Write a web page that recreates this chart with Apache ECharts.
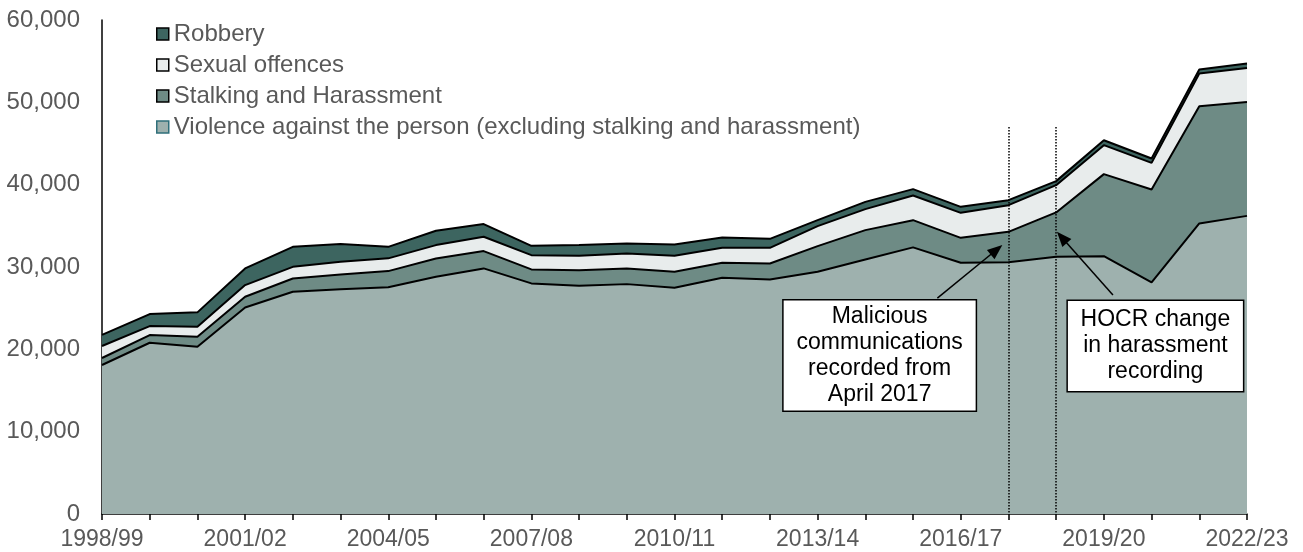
<!DOCTYPE html>
<html><head><meta charset="utf-8">
<script src="https://cdn.jsdelivr.net/npm/echarts@6/dist/echarts.min.js"></script>
<style>html,body{margin:0;padding:0;background:#fff}#c{width:1303px;height:552px}</style>
</head><body><div id="c"></div>
<script>
const years = ['1998/99','1999/00','2000/01','2001/02','2002/03','2003/04','2004/05','2005/06','2006/07','2007/08','2008/09','2009/10','2010/11','2011/12','2012/13','2013/14','2014/15','2015/16','2016/17','2017/18','2018/19','2019/20','2020/21','2021/22','2022/23'];
const violence = [18100,20800,20310,25090,26990,27300,27550,28810,29830,28010,27720,27920,27470,28690,28490,29420,30920,32380,30510,30590,31240,31320,28130,35290,36210];
const stalking = [850,930,1215,1290,1620,1800,1950,2230,2100,1700,1900,1910,1950,1820,1940,3120,3560,3310,3030,3680,5390,9960,11290,14240,13840];
const sexual = [1450,1090,1215,1420,1410,1530,1550,1620,1740,1730,1740,1820,1940,1820,1900,2420,2550,3000,3040,3240,3310,3520,3230,3970,4130];
const robbery = [1350,1460,1750,2030,2430,2150,1400,1740,1540,1130,1300,1210,1380,1260,1090,730,880,770,730,610,490,600,530,490,530];
const seriesNames = ['Violence against the person (excluding stalking and harassment)','Stalking and Harassment','Sexual offences','Robbery'];
const changeYears = ['2017/18','2018/19'];
const changeLineTop = 47000;
const noteTexts = ['Malicious\ncommunications\nrecorded from\nApril 2017','HOCR change\nin harassment\nrecording'];
const notePos = [[16.3,19240],[22.08,20400]];
const arrowFrom = [[17.51,26220],[21.19,26590]];
const arrowTo = [[18.75,32090],[20.12,33590]];

const fills = ['#9EB1AE','#6E8B85','#E8ECEC','#3D6560'];
const font = "'Liberation Sans', Arial, sans-serif";
const chart = echarts.init(document.getElementById('c'), null, {renderer:'canvas'});
const dataSets = [violence, stalking, sexual, robbery];
const series = dataSets.map((d,i)=>({
  name: seriesNames[i], type:'line', stack:'total', data:d, symbol:'none',
  z: 10 - i, color: fills[i],
  lineStyle:{color:'#000', width:2}, itemStyle:{color:fills[i]},
  areaStyle:{color:fills[i], opacity:1}, emphasis:{disabled:true}, animation:false
}));
const notes = noteTexts.map((t,i)=>({
  value: notePos[i],
  label:{show:true, position:'inside', formatter:t, width: i===0?192:175,
    padding: i===0?[3,0,3,0]:[6,0,6,0], backgroundColor:'#ffffff'}
}));
series.push({
  type:'scatter', xAxisIndex:1, yAxisIndex:0, symbolSize:0, z:30, animation:false,
  silent:true,
  itemStyle:{opacity:1},
  data: notes,
  label:{show:true, color:'#000', fontSize:23, fontFamily:font, lineHeight:26,
    align:'center', verticalAlign:'middle', backgroundColor:'#ffffff', borderColor:'#000', borderWidth:1.5},
  markLine:{silent:true, animation:false, z:25, symbol:'none', label:{show:false},
    lineStyle:{color:'#000', type:'dotted', width:1.5},
    data: changeYears.map(y=>[{coord:[years.indexOf(y), changeLineTop]},{coord:[years.indexOf(y), 0]}])
      .concat(arrowFrom.map((f,i)=>[{coord:f, symbol:'none', lineStyle:{type:'solid', width:1.5}},{coord:arrowTo[i], symbol:'triangle', symbolSize:[12,15]}]))
  }
});
chart.setOption({
  animation:false,
  grid:{left:102, right:56, top:20, bottom:38, containLabel:false},
  legend:{
    orient:'vertical', left:151, top:17, itemGap:7, itemWidth:12, itemHeight:12, icon:'rect',
    selectedMode:false,
    textStyle:{fontSize:24, color:'#595959', fontFamily:font},
    data:[
      {name:seriesNames[3], itemStyle:{color:fills[3], borderColor:'#000', borderWidth:1.5}},
      {name:seriesNames[2], itemStyle:{color:fills[2], borderColor:'#000', borderWidth:1.5}},
      {name:seriesNames[1], itemStyle:{color:fills[1], borderColor:'#000', borderWidth:1.5}},
      {name:seriesNames[0], itemStyle:{color:fills[0], borderColor:'#2F6F7A', borderWidth:1.5}}
    ]
  },
  xAxis:[{
    type:'category', data:years, boundaryGap:false,
    axisLine:{lineStyle:{color:'#000', width:1.5}},
    axisTick:{show:true, interval:0, length:6, lineStyle:{color:'#000', width:1.5}},
    axisLabel:{interval:2, fontSize:23, color:'#595959', fontFamily:font, margin:14},
    splitLine:{show:false}
  },{
    type:'value', min:0, max:years.length-1, show:false
  }],
  yAxis:{
    type:'value', min:0, max:60000, interval:10000,
    axisLine:{show:true, lineStyle:{color:'#000', width:1.5}},
    axisTick:{show:false},
    splitLine:{show:false},
    axisLabel:{fontSize:24, color:'#595959', fontFamily:font, margin:22,
      formatter:v=>v.toLocaleString('en-US')}
  },
  series: series
});
</script></body></html>
